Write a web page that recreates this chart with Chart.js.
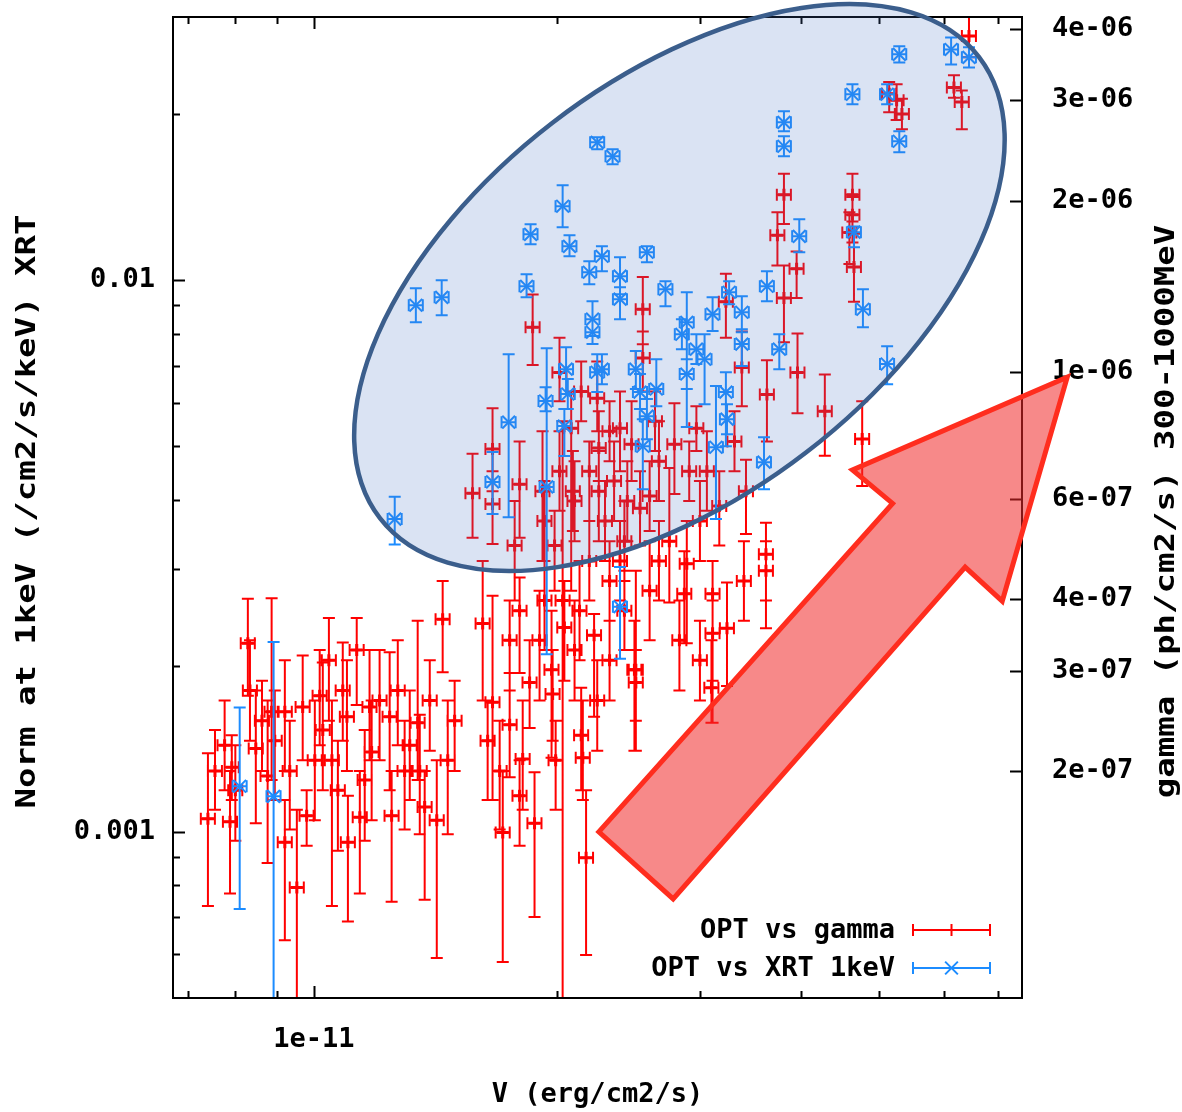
<!DOCTYPE html>
<html>
<head>
<meta charset="utf-8">
<script src="https://cdn.jsdelivr.net/npm/chart.js@4.4.1/dist/chart.umd.min.js"></script>
<style>
  html, body { margin: 0; padding: 0; background: #fff; }
  canvas { display: block; }
</style>
</head>
<body>
<canvas id="chart" width="1182" height="1112"></canvas>
<script>
// OPT flux (V band) vs gamma flux (right axis)
const redX = [
  7.40e-12, 7.92e-12, 7.88e-12, 8.29e-12, 8.48e-12, 8.87e-12, 8.77e-12, 9.21e-12, 9.21e-12, 9.53e-12,
  9.69e-12, 9.80e-12, 1.026e-11, 1.044e-11, 1.053e-11, 1.099e-11, 1.102e-11, 1.130e-11, 1.172e-11, 1.179e-11,
  1.140e-11, 1.241e-11, 1.248e-11, 1.344e-11, 1.371e-11, 1.443e-11, 1.419e-11, 1.464e-11, 8.00e-12, 1.017e-11,
  1.314e-11, 1.270e-11, 1.071e-11, 8.95e-12, 1.352e-11, 1.571e-11, 1.663e-11, 1.663e-11, 1.617e-11, 1.663e-11,
  1.697e-11, 1.746e-11, 1.796e-11, 1.796e-11, 1.812e-11, 1.848e-11, 1.712e-11, 1.874e-11, 1.796e-11, 1.917e-11,
  1.967e-11, 1.973e-11, 2.03e-11, 2.04e-11, 2.14e-11, 2.15e-11, 2.22e-11, 2.17e-11, 2.50e-11, 1.864e-11,
  2.012e-11, 2.08e-11, 2.09e-11, 2.25e-11, 2.24e-11, 2.55e-11, 2.55e-11, 2.39e-11, 2.47e-11, 2.67e-11,
  2.79e-11, 2.97e-11, 3.06e-11, 2.14e-11, 2.29e-11, 2.35e-11, 2.42e-11, 2.19e-11, 2.32e-11, 1.984e-11,
  1.928e-11, 2.10e-11, 2.25e-11, 2.44e-11, 2.60e-11, 2.64e-11, 2.32e-11, 2.42e-11, 1.771e-11, 2.53e-11,
  2.75e-11, 2.89e-11, 2.87e-11, 3.11e-11, 3.11e-11, 3.10e-11, 3.24e-11, 3.42e-11, 3.62e-11, 3.62e-11,
  2.49e-11, 2.50e-11, 3.23e-11, 3.38e-11, 3.63e-11, 3.96e-11, 4.28e-11, 4.76e-11, 3.81e-11, 3.74e-11,
  3.81e-11, 3.95e-11, 4.63e-11, 4.63e-11, 4.65e-11, 4.59e-11, 5.25e-11, 5.33e-11, 5.14e-11, 6.45e-11,
  6.18e-11, 6.32e-11, 3.00e-11, 3.17e-11, 2.91e-11, 3.31e-11, 2.67e-11, 2.83e-11, 3.00e-11, 3.40e-11,
  7.55e-12, 8.63e-12, 9.34e-12, 1.003e-11, 1.086e-11, 1.156e-11, 1.206e-11, 1.295e-11, 1.391e-11, 1.493e-11,
  1.640e-11, 1.746e-11, 1.901e-11, 1.99e-11, 2.10e-11, 2.24e-11, 2.39e-11, 2.60e-11, 2.13e-11, 1.928e-11,
  2.012e-11, 2.19e-11, 2.32e-11, 8.34e-12, 7.76e-12
];
const redY = [
  1.65e-7, 2.03e-7, 1.63e-7, 3.35e-7, 2.19e-7, 2.54e-7, 1.96e-7, 2.54e-7, 1.50e-7, 1.25e-7,
  2.59e-7, 1.67e-7, 2.36e-7, 3.13e-7, 2.09e-7, 2.49e-7, 1.50e-7, 3.26e-7, 2.59e-7, 2.16e-7,
  1.66e-7, 2.49e-7, 1.67e-7, 2.43e-7, 1.73e-7, 3.69e-7, 1.64e-7, 2.09e-7, 1.85e-7, 2.71e-7,
  2.22e-7, 2.77e-7, 1.85e-7, 2.26e-7, 2.00e-7, 6.14e-7, 7.34e-7, 5.88e-7, 3.63e-7, 2.64e-7,
  2.00e-7, 2.41e-7, 3.82e-7, 6.37e-7, 2.10e-7, 2.86e-7, 1.56e-7, 1.62e-7, 1.81e-7, 6.19e-7,
  3.01e-7, 2.73e-7, 3.98e-7, 3.57e-7, 2.31e-7, 2.11e-7, 3.46e-7, 1.41e-7, 3.01e-7, 1.20e-6,
  1.00e-6, 7.98e-7, 6.19e-7, 7.37e-7, 9.01e-7, 1.29e-6, 1.06e-6, 7.98e-7, 7.48e-7, 6.99e-7,
  7.48e-7, 7.98e-7, 6.71e-7, 9.26e-7, 5.49e-7, 6.45e-7, 5.06e-7, 4.67e-7, 4.31e-7, 4.97e-7,
  3.98e-7, 5.95e-7, 6.19e-7, 5.95e-7, 6.07e-7, 8.21e-7, 3.13e-7, 3.82e-7, 4.97e-7, 5.78e-7,
  5.06e-7, 4.62e-7, 4.09e-7, 4.09e-7, 3.49e-7, 2.80e-7, 3.56e-7, 6.19e-7, 4.80e-7, 4.49e-7,
  3.01e-7, 2.86e-7, 1.33e-6, 1.02e-6, 9.15e-7, 1.00e-6, 8.55e-7, 7.64e-7, 2.05e-6, 1.74e-6,
  1.35e-6, 1.52e-6, 2.05e-6, 1.89e-6, 1.53e-6, 1.76e-6, 3.00e-6, 2.84e-6, 3.08e-6, 3.89e-6,
  3.16e-6, 2.98e-6, 5.49e-7, 5.83e-7, 6.71e-7, 7.57e-7, 4.67e-7, 3.39e-7, 3.13e-7, 4.31e-7,
  2.00e-7, 2.45e-7, 2.00e-7, 2.09e-7, 2.77e-7, 1.93e-7, 2.66e-7, 2.00e-7, 2.66e-7, 2.45e-7,
  2.26e-7, 3.39e-7, 3.39e-7, 2.09e-7, 3.26e-7, 2.66e-7, 4.67e-7, 4.14e-7, 3.82e-7, 5.49e-7,
  6.71e-7, 6.71e-7, 7.89e-7, 2.77e-7, 2.22e-7
];
const redHigh = [
  2.15e-7, 2.31e-7, 2.00e-7, 4.01e-7, 2.77e-7, 4.02e-7, 2.66e-7, 3.13e-7, 1.78e-7, 1.71e-7,
  3.19e-7, 1.85e-7, 3.10e-7, 3.71e-7, 2.66e-7, 3.13e-7, 1.81e-7, 3.71e-7, 3.26e-7, 2.66e-7,
  2.00e-7, 3.23e-7, 2.00e-7, 3.67e-7, 2.00e-7, 4.31e-7, 2.09e-7, 2.66e-7, 2.22e-7, 3.26e-7,
  2.77e-7, 3.39e-7, 2.26e-7, 2.77e-7, 2.51e-7, 7.20e-7, 8.65e-7, 6.71e-7, 4.67e-7, 4.06e-7,
  2.45e-7, 2.97e-7, 4.37e-7, 7.57e-7, 2.66e-7, 3.39e-7, 2.00e-7, 1.99e-7, 2.09e-7, 7.89e-7,
  3.82e-7, 3.26e-7, 8.21e-7, 4.31e-7, 2.80e-7, 2.66e-7, 3.77e-7, 1.85e-7, 4.49e-7, 1.37e-6,
  1.15e-6, 9.26e-7, 7.28e-7, 8.55e-7, 1.045e-6, 1.47e-6, 1.18e-6, 9.26e-7, 8.90e-7, 8.21e-7,
  8.83e-7, 8.72e-7, 7.89e-7, 1.045e-6, 6.45e-7, 7.57e-7, 5.95e-7, 5.49e-7, 5.06e-7, 5.72e-7,
  4.67e-7, 6.99e-7, 7.28e-7, 6.99e-7, 6.99e-7, 9.26e-7, 3.67e-7, 4.49e-7, 5.95e-7, 6.71e-7,
  6.80e-7, 5.49e-7, 4.86e-7, 4.67e-7, 3.98e-7, 3.39e-7, 4.28e-7, 7.03e-7, 5.45e-7, 5.06e-7,
  3.67e-7, 3.26e-7, 1.49e-6, 1.18e-6, 1.05e-6, 1.17e-6, 9.92e-7, 8.90e-7, 2.23e-6, 1.91e-6,
  1.54e-6, 1.63e-6, 2.23e-6, 2.03e-6, 1.75e-6, 1.91e-6, 3.20e-6, 3.02e-6, 3.23e-6, 4.30e-6,
  3.32e-6, 3.12e-6, 6.45e-7, 6.71e-7, 7.57e-7, 8.55e-7, 5.49e-7, 3.98e-7, 3.67e-7, 5.06e-7,
  2.36e-7, 2.88e-7, 2.45e-7, 2.66e-7, 3.36e-7, 2.36e-7, 3.26e-7, 2.45e-7, 3.13e-7, 2.88e-7,
  2.66e-7, 3.98e-7, 4.14e-7, 2.45e-7, 3.98e-7, 3.13e-7, 5.49e-7, 5.06e-7, 4.67e-7, 6.45e-7,
  7.89e-7, 7.57e-7, 8.90e-7, 3.39e-7, 2.66e-7
];
const redLow = [
  1.16e-7, 1.78e-7, 1.22e-7, 2.71e-7, 1.62e-7, 1.93e-7, 1.38e-7, 2.00e-7, 1.01e-7, 7.0e-8,
  2.09e-7, 1.48e-7, 1.85e-7, 2.45e-7, 1.16e-7, 2.00e-7, 1.09e-7, 2.61e-7, 2.09e-7, 1.64e-7,
  1.22e-7, 1.85e-7, 1.18e-7, 1.93e-7, 1.19e-7, 2.98e-7, 9.40e-8, 1.55e-7, 1.51e-7, 2.22e-7,
  1.78e-7, 2.22e-7, 1.45e-7, 1.78e-7, 1.55e-7, 5.13e-7, 6.19e-7, 5.00e-7, 2.66e-7, 1.78e-7,
  1.58e-7, 1.95e-7, 2.97e-7, 5.13e-7, 1.71e-7, 2.38e-7, 9.25e-8, 1.11e-7, 1.48e-7, 4.67e-7,
  2.11e-7, 2.26e-7, 7.0e-8, 2.88e-7, 1.85e-7, 1.78e-7, 2.49e-7, 9.52e-8, 2.17e-7, 1.03e-6,
  8.90e-7, 4.14e-7, 5.27e-7, 6.45e-7, 7.89e-7, 1.12e-6, 9.26e-7, 6.71e-7, 6.45e-7, 5.95e-7,
  6.12e-7, 7.28e-7, 5.72e-7, 8.21e-7, 4.67e-7, 5.49e-7, 4.31e-7, 3.98e-7, 3.67e-7, 4.14e-7,
  3.26e-7, 5.06e-7, 5.06e-7, 5.06e-7, 5.27e-7, 7.28e-7, 2.66e-7, 3.26e-7, 3.98e-7, 4.97e-7,
  3.95e-7, 3.35e-7, 3.35e-7, 2.43e-7, 2.88e-7, 2.43e-7, 2.82e-7, 5.21e-7, 3.56e-7, 3.98e-7,
  2.17e-7, 2.45e-7, 1.15e-6, 8.72e-7, 7.57e-7, 8.48e-7, 7.14e-7, 6.32e-7, 1.82e-6, 1.54e-6,
  1.13e-6, 1.35e-6, 1.84e-6, 1.69e-6, 1.33e-6, 1.55e-6, 2.77e-6, 2.67e-6, 2.86e-6, 3.57e-6,
  3.03e-6, 2.67e-6, 4.67e-7, 4.97e-7, 5.95e-7, 6.71e-7, 3.98e-7, 2.77e-7, 2.66e-7, 3.67e-7,
  1.71e-7, 2.00e-7, 1.58e-7, 1.64e-7, 2.26e-7, 1.51e-7, 2.09e-7, 1.58e-7, 2.17e-7, 2.00e-7,
  1.78e-7, 2.77e-7, 2.66e-7, 1.71e-7, 2.66e-7, 2.17e-7, 3.98e-7, 3.39e-7, 3.13e-7, 4.67e-7,
  5.72e-7, 5.49e-7, 6.99e-7, 2.26e-7, 1.85e-7
];

// OPT flux vs XRT norm at 1 keV (left axis)
const blueX = [
  1.259e-11, 1.337e-11, 1.439e-11, 1.663e-11, 1.741e-11, 1.832e-11, 1.853e-11, 2.03e-11, 2.07e-11, 1.934e-11,
  1.940e-11, 2.05e-11, 2.06e-11, 2.04e-11, 2.24e-11, 2.21e-11, 2.24e-11, 2.34e-11, 2.58e-11, 2.27e-11,
  2.19e-11, 2.39e-11, 2.39e-11, 2.21e-11, 2.72e-11, 2.89e-11, 2.89e-11, 3.04e-11, 3.11e-11, 3.23e-11,
  3.24e-11, 3.26e-11, 3.38e-11, 3.38e-11, 3.14e-11, 3.60e-11, 3.63e-11, 3.81e-11, 3.81e-11, 3.98e-11,
  3.76e-11, 4.63e-11, 4.65e-11, 4.77e-11, 5.11e-11, 5.11e-11, 5.29e-11, 5.29e-11, 6.13e-11, 6.45e-11,
  2.50e-11, 2.53e-11, 2.58e-11, 2.55e-11, 2.65e-11, 2.27e-11, 2.39e-11, 8.10e-12, 8.92e-12, 2.85e-11, 2.97e-11
];
const blueY = [
  3.69e-3, 9.01e-3, 9.31e-3, 4.31e-3, 5.53e-3, 9.75e-3, 1.211e-2, 1.362e-2, 1.152e-2, 6.04e-3,
  4.22e-3, 6.90e-3, 6.22e-3, 5.44e-3, 6.81e-3, 8.05e-3, 1.778e-2, 1.677e-2, 1.124e-2, 1.105e-2,
  1.034e-2, 1.017e-2, 9.24e-3, 8.50e-3, 9.63e-3, 8.39e-3, 6.76e-3, 7.19e-3, 8.68e-3, 6.27e-3,
  5.60e-3, 9.51e-3, 8.75e-3, 7.66e-3, 4.98e-3, 4.68e-3, 9.75e-3, 1.933e-2, 1.749e-2, 1.201e-2,
  7.50e-3, 2.173e-2, 1.222e-2, 8.86e-3, 7.05e-3, 2.173e-2, 2.567e-2, 1.786e-2, 2.62e-2, 2.535e-2,
  6.90e-3, 6.27e-3, 5.67e-3, 5.00e-3, 6.35e-3, 6.90e-3, 2.56e-3, 1.21e-3, 1.16e-3, 7.98e-3, 7.50e-3
];
const blueHigh = [
  4.05e-3, 9.67e-3, 1.00e-2, 4.88e-3, 7.34e-3, 1.025e-2, 1.263e-2, 1.486e-2, 1.206e-2, 6.40e-3,
  7.53e-3, 7.56e-3, 6.62e-3, 5.84e-3, 7.34e-3, 8.50e-3, 1.816e-2, 1.727e-2, 1.152e-2, 1.152e-2,
  1.082e-2, 1.101e-2, 9.71e-3, 9.16e-3, 9.96e-3, 9.51e-3, 7.19e-3, 7.98e-3, 9.31e-3, 6.81e-3,
  5.96e-3, 9.96e-3, 9.35e-3, 8.15e-3, 6.43e-3, 5.19e-3, 1.038e-2, 2.024e-2, 1.823e-2, 1.29e-2,
  7.98e-3, 2.265e-2, 1.252e-2, 9.63e-3, 7.59e-3, 2.265e-2, 2.654e-2, 1.862e-2, 2.755e-2, 2.643e-2,
  7.44e-3, 6.76e-3, 6.09e-3, 5.60e-3, 7.19e-3, 7.34e-3, 3.02e-3, 1.68e-3, 2.21e-3, 8.50e-3, 7.98e-3
];
const blueLow = [
  3.32e-3, 8.39e-3, 8.64e-3, 3.77e-3, 3.72e-3, 9.31e-3, 1.162e-2, 1.247e-2, 1.105e-2, 5.79e-3,
  2.10e-3, 6.22e-3, 5.84e-3, 4.80e-3, 6.27e-3, 7.66e-3, 1.727e-2, 1.623e-2, 1.078e-2, 1.038e-2,
  9.83e-3, 9.43e-3, 8.50e-3, 7.92e-3, 8.97e-3, 5.42e-3, 6.35e-3, 5.96e-3, 8.09e-3, 5.00e-3,
  5.26e-3, 9.05e-3, 8.05e-3, 6.99e-3, 3.69e-3, 4.18e-3, 9.16e-3, 1.862e-2, 1.677e-2, 1.124e-2,
  6.90e-3, 2.084e-2, 1.148e-2, 8.22e-3, 6.48e-3, 2.084e-2, 2.48e-2, 1.706e-2, 2.46e-2, 2.43e-2,
  6.35e-3, 5.84e-3, 5.15e-3, 4.18e-3, 5.91e-3, 6.48e-3, 2.06e-3, 7.25e-4, 4.5e-4, 7.50e-3, 7.05e-3
];

// typical relative error on the optical flux (x error bars)
const optRelErr = 0.02;

// axis ticks (gnuplot only labels the major ones)
const xTickValues = [7e-12, 8e-12, 9e-12, 1e-11, 2e-11, 3e-11, 4e-11, 5e-11, 6e-11, 7e-11];
const xTickText = ['', '', '', '1e-11', '', '', '', '', '', ''];
const yTickValues = [6e-4, 7e-4, 8e-4, 9e-4, 1e-3, 2e-3, 3e-3, 4e-3, 5e-3, 6e-3, 7e-3, 8e-3, 9e-3, 1e-2, 2e-2];
const yTickText = ['', '', '', '', '0.001', '', '', '', '', '', '', '', '', '0.01', ''];
const y2TickValues = [2e-7, 3e-7, 4e-7, 6e-7, 1e-6, 2e-6, 3e-6, 4e-6];
const y2TickText = ['2e-07', '3e-07', '4e-07', '6e-07', '1e-06', '2e-06', '3e-06', '4e-06'];

// annotation drawn over the plot (data coordinates on x / left axis)
const ellipseCenter = [2.83e-11, 9.7e-3];
const arrowPoints = [
  [2.25e-11, 1.00e-3], [5.19e-11, 3.94e-3], [4.63e-11, 4.53e-3], [8.53e-11, 6.67e-3],
  [7.09e-11, 2.62e-3], [6.38e-11, 3.02e-3], [2.78e-11, 7.56e-4]
];

const RED = '#ff0000';
const BLUE = '#1c8cff';
const FAMILY = '"DejaVu Sans Mono", monospace';
const textFont = { family: FAMILY, size: 27, weight: 'bold' };
const CAP = 6;

const toPoints = (xs, ys) => xs.map((x, i) => ({ x: x, y: ys[i] }));

// fixed axis sizes, no extra label padding, so the frame sits where gnuplot put it
const fixSize = (w, h) => s => {
  if (w) s.width = w;
  if (h) s.height = h;
  s.paddingTop = 0; s.paddingBottom = 0; s.paddingLeft = 0; s.paddingRight = 0;
};

const errorBars = {
  id: 'errorBars',
  beforeDatasetDraw(chart, args) {
    const ds = chart.data.datasets[args.index];
    const xs = chart.scales.x;
    const ys = chart.scales[ds.yAxisID];
    const a = chart.chartArea;
    const ctx = chart.ctx;
    ctx.save();
    ctx.beginPath();
    ctx.rect(a.left, a.top, a.right - a.left, a.bottom - a.top);
    ctx.clip();
    ctx.strokeStyle = ds.borderColor;
    ctx.lineWidth = 2;
    ctx.beginPath();
    ds.data.forEach((p, i) => {
      const px = xs.getPixelForValue(p.x);
      const py = ys.getPixelForValue(p.y);
      const top = ys.getPixelForValue(ds.yHigh[i]);
      const bot = ys.getPixelForValue(ds.yLow[i]);
      const left = xs.getPixelForValue(p.x * (1 - optRelErr));
      const right = xs.getPixelForValue(p.x * (1 + optRelErr));
      ctx.moveTo(px, top); ctx.lineTo(px, bot);
      ctx.moveTo(px - CAP, top); ctx.lineTo(px + CAP, top);
      ctx.moveTo(px - CAP, bot); ctx.lineTo(px + CAP, bot);
      ctx.moveTo(left, py); ctx.lineTo(right, py);
      ctx.moveTo(left, py - CAP); ctx.lineTo(left, py + CAP);
      ctx.moveTo(right, py - CAP); ctx.lineTo(right, py + CAP);
    });
    ctx.stroke();
    ctx.restore();
  }
};

// border, inward ticks, rotated axis titles and the key
const frame = {
  id: 'frame',
  afterDatasetsDraw(chart) {
    const { ctx, chartArea: a, scales } = chart;
    ctx.save();
    ctx.strokeStyle = '#000';
    ctx.lineWidth = 2;
    ctx.strokeRect(a.left, a.top, a.right - a.left, a.bottom - a.top);
    ctx.beginPath();
    scales.x.ticks.forEach(t => {
      const px = Math.round(scales.x.getPixelForValue(t.value)) + 0.5;
      const len = t.label ? 12 : 7;
      ctx.moveTo(px, a.bottom); ctx.lineTo(px, a.bottom - len);
      ctx.moveTo(px, a.top); ctx.lineTo(px, a.top + len);
    });
    scales.y.ticks.forEach(t => {
      const py = Math.round(scales.y.getPixelForValue(t.value)) + 0.5;
      const len = t.label ? 12 : 7;
      ctx.moveTo(a.left, py); ctx.lineTo(a.left + len, py);
    });
    scales.y2.ticks.forEach(t => {
      const py = Math.round(scales.y2.getPixelForValue(t.value)) + 0.5;
      ctx.moveTo(a.right, py); ctx.lineTo(a.right - 12, py);
    });
    ctx.stroke();

    // vertical axis titles (gnuplot reads both bottom-to-top)
    ctx.fillStyle = '#000';
    ctx.font = 'bold 27px ' + FAMILY;
    ctx.textAlign = 'center';
    ctx.textBaseline = 'middle';
    const midY = (a.top + a.bottom) / 2 + 4;
    [[28, 'Norm at 1keV (/cm2/s/keV) XRT'], [1167, 'gamma (ph/cm2/s) 300-1000MeV']].forEach(([x, text]) => {
      ctx.save();
      ctx.translate(x, midY);
      ctx.rotate(-Math.PI / 2);
      ctx.scale(1.26, 1);
      ctx.fillText(text, 0, 0);
      ctx.restore();
    });

    // key, bottom right inside the frame
    const rows = [a.bottom - 68, a.bottom - 30];
    chart.data.datasets.slice().sort((p, q) => q.order - p.order).forEach((ds, i) => {
      const y = rows[i];
      const x0 = a.right - 109, x1 = a.right - 32;
      ctx.fillStyle = '#000';
      ctx.textAlign = 'right';
      ctx.fillText(ds.label, a.right - 127, y + 1);
      ctx.strokeStyle = ds.borderColor;
      ctx.lineWidth = 2;
      ctx.beginPath();
      ctx.moveTo(x0, y); ctx.lineTo(x1, y);
      ctx.moveTo(x0, y - CAP); ctx.lineTo(x0, y + CAP);
      ctx.moveTo(x1, y - CAP); ctx.lineTo(x1, y + CAP);
      ctx.stroke();
      Chart.helpers.drawPoint(ctx, {
        pointStyle: ds.pointStyle, radius: ds.pointRadius, borderWidth: ds.pointBorderWidth, rotation: 0
      }, (x0 + x1) / 2, y);
    });
    ctx.restore();
  }
};

// highlighted region and arrow laid over the figure
const overlay = {
  id: 'overlay',
  afterDraw(chart) {
    const { ctx, scales } = chart;
    const px = v => scales.x.getPixelForValue(v);
    const py = v => scales.y.getPixelForValue(v);
    ctx.save();
    ctx.beginPath();
    ctx.ellipse(px(ellipseCenter[0]), py(ellipseCenter[1]), 378, 208, -37.6 * Math.PI / 180, 0, Math.PI * 2);
    ctx.fillStyle = 'rgba(68, 114, 196, 0.2)';
    ctx.fill();
    ctx.lineWidth = 4.5;
    ctx.strokeStyle = '#3b5e8c';
    ctx.stroke();

    ctx.beginPath();
    arrowPoints.forEach(([x, y], i) => {
      if (i === 0) ctx.moveTo(px(x), py(y));
      else ctx.lineTo(px(x), py(y));
    });
    ctx.closePath();
    ctx.fillStyle = 'rgba(240, 40, 40, 0.55)';
    ctx.fill();
    ctx.lineJoin = 'miter';
    ctx.lineWidth = 5;
    ctx.strokeStyle = '#ff2d1e';
    ctx.stroke();
    ctx.restore();
  }
};

new Chart(document.getElementById('chart'), {
  type: 'scatter',
  data: {
    datasets: [
      {
        label: 'OPT vs gamma',
        data: toPoints(redX, redY),
        yHigh: redHigh,
        yLow: redLow,
        yAxisID: 'y2',
        order: 2,
        pointStyle: 'cross',
        pointRadius: 6,
        pointBorderWidth: 3,
        borderColor: RED,
        backgroundColor: RED
      },
      {
        label: 'OPT vs XRT 1keV',
        data: toPoints(blueX, blueY),
        yHigh: blueHigh,
        yLow: blueLow,
        yAxisID: 'y',
        order: 1,
        pointStyle: 'crossRot',
        pointRadius: 9,
        pointBorderWidth: 2,
        borderColor: BLUE,
        backgroundColor: BLUE
      }
    ]
  },
  options: {
    responsive: false,
    animation: false,
    events: [],
    devicePixelRatio: 1,
    layout: { padding: { top: 17, left: 0, right: 0, bottom: 0 } },
    plugins: {
      legend: { display: false },
      tooltip: { enabled: false }
    },
    scales: {
      x: {
        type: 'logarithmic',
        position: 'bottom',
        min: 6.7e-12,
        max: 7.5e-11,
        afterBuildTicks: s => { s.ticks = xTickValues.map(v => ({ value: v })); },
        afterFit: fixSize(0, 114),
        grid: { display: false, drawTicks: false },
        border: { display: false },
        ticks: {
          autoSkip: false, maxRotation: 0, padding: 26, color: '#000', font: textFont,
          callback: (v, i) => xTickText[i]
        },
        title: {
          display: true, text: 'V (erg/cm2/s)', color: '#000', font: textFont,
          padding: { top: 0, bottom: 1 }
        }
      },
      y: {
        type: 'logarithmic',
        position: 'left',
        min: 5e-4,
        max: 3e-2,
        afterBuildTicks: s => { s.ticks = yTickValues.map(v => ({ value: v })); },
        afterFit: fixSize(173, 0),
        grid: { display: false, drawTicks: false },
        border: { display: false },
        ticks: {
          autoSkip: false, padding: 18, color: '#000', font: textFont,
          callback: (v, i) => yTickText[i]
        }
      },
      y2: {
        type: 'logarithmic',
        position: 'right',
        min: 8e-8,
        max: 4.2e-6,
        afterBuildTicks: s => { s.ticks = y2TickValues.map(v => ({ value: v })); },
        afterFit: fixSize(160, 0),
        grid: { display: false, drawTicks: false },
        border: { display: false },
        ticks: {
          autoSkip: false, padding: 30, color: '#000', font: textFont,
          callback: (v, i) => y2TickText[i]
        }
      }
    }
  },
  plugins: [errorBars, frame, overlay]
});
</script>
</body>
</html>
